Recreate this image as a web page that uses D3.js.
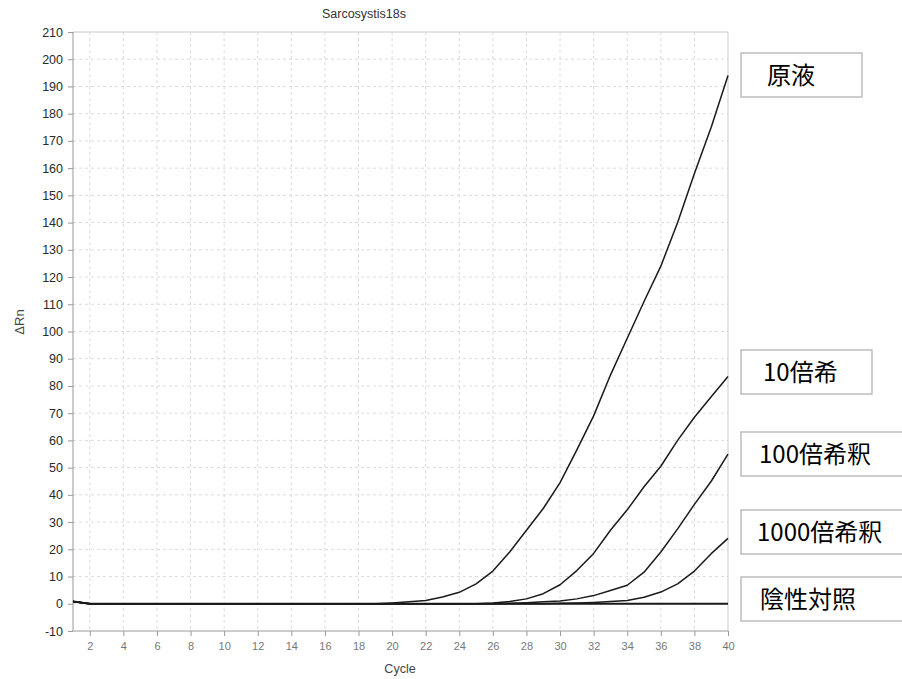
<!DOCTYPE html>
<html>
<head>
<meta charset="utf-8">
<script src="https://cdn.jsdelivr.net/npm/d3@7"></script>
<style>
  body { margin: 0; background: #fff; }
  svg { display: block; }
</style>
</head>
<body>
<svg id="chart" width="902" height="679"></svg>
<script>
// Amplification data: ΔRn per PCR cycle (cycles 1..40)
const cycles = [1,2,3,4,5,6,7,8,9,10,11,12,13,14,15,16,17,18,19,20,21,22,23,24,25,26,27,28,29,30,31,32,33,34,35,36,37,38,39,40];
const xTickValues = [2,4,6,8,10,12,14,16,18,20,22,24,26,28,30,32,34,36,38,40];
const yTickValues = [-10,0,10,20,30,40,50,60,70,80,90,100,110,120,130,140,150,160,170,180,190,200,210];
const seriesLabels = ["原液", "10倍希", "100倍希釈", "1000倍希釈", "陰性対照"];

const undiluted = [0.8,0,0,0,0,0,0,0,0,0,0,0,0,0,0,0,0,0,0,0.3,0.7,1.2,2.5,4.2,7.3,12,19,27,35,44.5,56.5,69,84,97.5,111,124,140,158,175,194];
const dilution10 = [0.8,0,0,0,0,0,0,0,0,0,0,0,0,0,0,0,0,0,0,0,0,0,0,0,0,0.3,0.8,1.8,3.7,7,12.2,18.5,27,34.5,43,50.5,60,68.5,76,83.5];
const dilution100 = [0.8,0,0,0,0,0,0,0,0,0,0,0,0,0,0,0,0,0,0,0,0,0,0,0,0,0,0.2,0.4,0.7,1,1.8,3,4.9,6.8,11.6,19,27.5,36.5,45,55];
const dilution1000 = [0.8,0,0,0,0,0,0,0,0,0,0,0,0,0,0,0,0,0,0,0,0,0,0,0,0,0,0,0,0,0.2,0.3,0.5,0.8,1.2,2.4,4.3,7.3,12,18.4,24];
const negativeControl = [0.8,0,0,0,0,0,0,0,0,0,0,0,0,0,0,0,0,0,0,0,0,0,0,0,0,0,0,0,0,0,0,0,0,0,0,0,0,0,0,0];

const seriesValues = [undiluted, dilution10, dilution100, dilution1000, negativeControl];

const svg = d3.select("#chart");
const plot = { left: 73, right: 728, top: 32, bottom: 631 };
const sans = "Liberation Sans, Arial, sans-serif";

const x = d3.scaleLinear().domain([1, 40]).range([plot.left, plot.right]);
const y = d3.scaleLinear().domain([-10, 210]).range([plot.bottom, plot.top]);

// dashed grid
const grid = svg.append("g");
grid.selectAll("line.v")
  .data(xTickValues.filter(d => d < 40))
  .join("line")
  .attr("x1", d => x(d)).attr("x2", d => x(d))
  .attr("y1", plot.top).attr("y2", plot.bottom)
  .attr("stroke", "#dcdcdc").attr("stroke-width", 1)
  .attr("stroke-dasharray", "3,3");
grid.selectAll("line.h")
  .data(yTickValues.filter(d => d > -10 && d < 210))
  .join("line")
  .attr("x1", plot.left).attr("x2", plot.right)
  .attr("y1", d => y(d)).attr("y2", d => y(d))
  .attr("stroke", "#dcdcdc").attr("stroke-width", 1)
  .attr("stroke-dasharray", "3,3");

// top and right frame
svg.append("line")
  .attr("x1", plot.left).attr("x2", plot.right)
  .attr("y1", y(210)).attr("y2", y(210))
  .attr("stroke", "#c8c8c8");
svg.append("line")
  .attr("x1", plot.right).attr("x2", plot.right)
  .attr("y1", plot.top).attr("y2", plot.bottom)
  .attr("stroke", "#c8c8c8");

// axes (plain hyphen for negative numbers)
const plainNumber = d => String(d);
const yAxis = d3.axisLeft(y).tickValues(yTickValues).tickSize(5).tickPadding(5).tickFormat(plainNumber);
const xAxis = d3.axisBottom(x).tickValues(xTickValues).tickSize(5).tickPadding(6).tickFormat(plainNumber);

const gy = svg.append("g").attr("transform", `translate(${plot.left},0)`).call(yAxis);
gy.select(".domain").attr("stroke", "#999").attr("d", `M0,${plot.top}V${plot.bottom}`);
gy.selectAll(".tick line").attr("stroke", "#999");
gy.selectAll(".tick text")
  .attr("fill", "#2a2a2a").style("font-family", sans).style("font-size", "12.5px");

const gx = svg.append("g").attr("transform", `translate(0,${plot.bottom})`).call(xAxis);
gx.select(".domain").attr("stroke", "#999").attr("d", `M${plot.left},0H${plot.right}`);
gx.selectAll(".tick line").attr("stroke", "#999");
gx.selectAll(".tick text")
  .attr("fill", "#777").style("font-family", sans).style("font-size", "11px");

// titles
svg.append("text")
  .attr("x", 364).attr("y", 18)
  .attr("text-anchor", "middle")
  .attr("fill", "#333")
  .style("font-family", sans).style("font-size", "12.5px")
  .text("Sarcosystis18s");
svg.append("text")
  .attr("x", 400).attr("y", 673)
  .attr("text-anchor", "middle")
  .attr("fill", "#444")
  .style("font-family", sans).style("font-size", "12.5px")
  .text("Cycle");
svg.append("text")
  .attr("transform", "translate(24,322) rotate(-90)")
  .attr("text-anchor", "middle")
  .attr("fill", "#444")
  .style("font-family", sans).style("font-size", "13px")
  .text("ΔRn");

// amplification curves
const line = d3.line()
  .x((d, i) => x(cycles[i]))
  .y(d => y(d));

svg.append("g").selectAll("path")
  .data(seriesValues)
  .join("path")
  .attr("d", line)
  .attr("fill", "none")
  .attr("stroke", "#1a1a1a")
  .attr("stroke-width", (d, i) => i === 4 ? 2 : 1.5)
  .attr("stroke-linejoin", "round");

// boxed series labels on the right
const labelBoxes = [
  { top: 53, width: 121, textX: 767 },
  { top: 350, width: 131, textX: 763 },
  { top: 432, width: 170, textX: 759 },
  { top: 510, width: 170, textX: 757 },
  { top: 577, width: 170, textX: 760 }
];
const labels = svg.append("g").selectAll("g")
  .data(seriesLabels)
  .join("g");
labels.append("rect")
  .attr("x", 741)
  .attr("y", (d, i) => labelBoxes[i].top)
  .attr("width", (d, i) => labelBoxes[i].width)
  .attr("height", 44)
  .attr("fill", "#fff")
  .attr("stroke", "#bdbdbd")
  .attr("stroke-width", 1.5);
labels.append("text")
  .attr("x", (d, i) => labelBoxes[i].textX)
  .attr("y", (d, i) => labelBoxes[i].top + 31)
  .attr("fill", "#000")
  .style("font-family", "Noto Sans CJK JP, sans-serif")
  .style("font-size", "24px")
  .text(d => d);
</script>
</body>
</html>
